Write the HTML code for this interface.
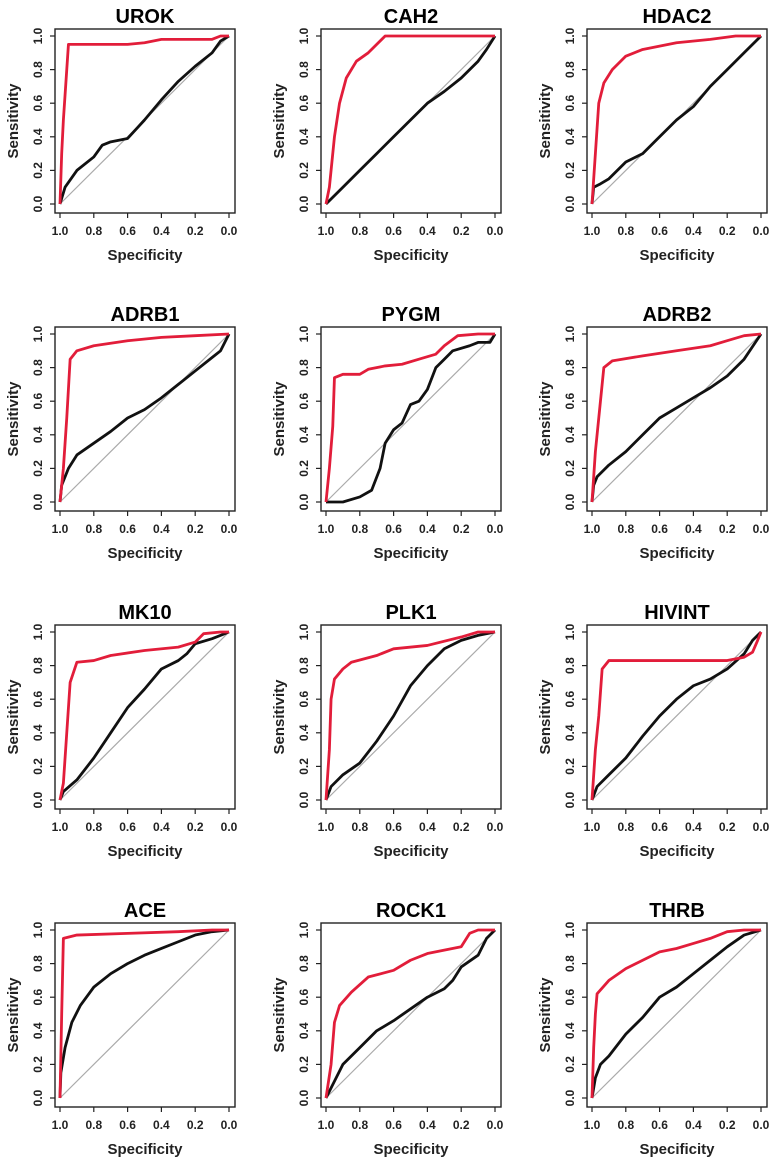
<!DOCTYPE html>
<html><head><meta charset="utf-8"><style>
html,body{margin:0;padding:0;background:#fff;}
svg{display:block;font-family:"Liberation Sans",Arial,sans-serif;}
</style></head><body>
<svg id="chart" width="774" height="1157" viewBox="0 0 774 1157"></svg>
<script>
const panelTitles = ["UROK","CAH2","HDAC2","ADRB1","PYGM","ADRB2","MK10","PLK1","HIVINT","ACE","ROCK1","THRB"];
const tickValues = [1.0,0.8,0.6,0.4,0.2,0.0];
const tickLabels = ["1.0","0.8","0.6","0.4","0.2","0.0"];
const yTickValues = [0.0,0.2,0.4,0.6,0.8,1.0];
const yTickLabels = ["0.0","0.2","0.4","0.6","0.8","1.0"];
const redCurves = [
 [[1,0],[0.99,0.3],[0.98,0.5],[0.96,0.8],[0.95,0.95],[0.6,0.95],[0.5,0.96],[0.4,0.98],[0.1,0.98],[0.05,1],[0,1]],
 [[1,0],[0.98,0.1],[0.95,0.4],[0.92,0.6],[0.88,0.75],[0.82,0.85],[0.75,0.9],[0.7,0.95],[0.65,1],[0,1]],
 [[1,0],[0.98,0.3],[0.96,0.6],[0.93,0.72],[0.88,0.8],[0.8,0.88],[0.7,0.92],[0.5,0.96],[0.3,0.98],[0.15,1],[0,1]],
 [[1,0],[0.98,0.2],[0.96,0.5],[0.94,0.85],[0.9,0.9],[0.8,0.93],[0.6,0.96],[0.4,0.98],[0.2,0.99],[0,1]],
 [[1,0],[0.98,0.2],[0.96,0.45],[0.95,0.74],[0.9,0.76],[0.8,0.76],[0.75,0.79],[0.65,0.81],[0.55,0.82],[0.45,0.85],[0.35,0.88],[0.3,0.93],[0.22,0.99],[0.1,1],[0,1]],
 [[1,0],[0.98,0.3],[0.95,0.6],[0.93,0.8],[0.88,0.84],[0.7,0.87],[0.5,0.9],[0.3,0.93],[0.2,0.96],[0.1,0.99],[0,1]],
 [[1,0],[0.98,0.1],[0.96,0.4],[0.94,0.7],[0.9,0.82],[0.8,0.83],[0.7,0.86],[0.5,0.89],[0.3,0.91],[0.2,0.94],[0.15,0.99],[0.05,1],[0,1]],
 [[1,0],[0.98,0.3],[0.97,0.6],[0.95,0.72],[0.9,0.78],[0.85,0.82],[0.7,0.86],[0.6,0.9],[0.4,0.92],[0.2,0.97],[0.1,1],[0,1]],
 [[1,0],[0.98,0.3],[0.96,0.5],[0.94,0.78],[0.9,0.83],[0.2,0.83],[0.1,0.85],[0.05,0.88],[0.02,0.95],[0,1]],
 [[1,0],[0.99,0.5],[0.98,0.95],[0.9,0.97],[0.6,0.98],[0.3,0.99],[0.1,1],[0,1]],
 [[1,0],[0.97,0.2],[0.95,0.45],[0.92,0.55],[0.85,0.63],[0.75,0.72],[0.6,0.76],[0.5,0.82],[0.4,0.86],[0.3,0.88],[0.2,0.9],[0.15,0.98],[0.1,1],[0,1]],
 [[1,0],[0.99,0.3],[0.98,0.5],[0.97,0.62],[0.9,0.7],[0.8,0.77],[0.7,0.82],[0.6,0.87],[0.5,0.89],[0.4,0.92],[0.3,0.95],[0.2,0.99],[0.1,1],[0,1]]
];
const blackCurves = [
 [[1,0],[0.97,0.1],[0.9,0.2],[0.8,0.28],[0.75,0.35],[0.7,0.37],[0.6,0.39],[0.5,0.5],[0.4,0.62],[0.3,0.73],[0.2,0.82],[0.1,0.9],[0.05,0.97],[0,1]],
 [[1,0],[0.9,0.1],[0.8,0.2],[0.7,0.3],[0.6,0.4],[0.5,0.5],[0.4,0.6],[0.3,0.67],[0.2,0.75],[0.1,0.85],[0.05,0.92],[0,1]],
 [[1,0],[0.99,0.1],[0.95,0.12],[0.9,0.15],[0.8,0.25],[0.7,0.3],[0.6,0.4],[0.5,0.5],[0.4,0.58],[0.3,0.7],[0.2,0.8],[0.1,0.9],[0,1]],
 [[1,0],[0.99,0.1],[0.95,0.2],[0.9,0.28],[0.8,0.35],[0.7,0.42],[0.6,0.5],[0.5,0.55],[0.4,0.62],[0.3,0.7],[0.2,0.78],[0.1,0.86],[0.05,0.9],[0,1]],
 [[1,0],[0.9,0],[0.8,0.03],[0.73,0.07],[0.68,0.2],[0.65,0.35],[0.6,0.43],[0.55,0.47],[0.5,0.58],[0.45,0.6],[0.4,0.67],[0.35,0.8],[0.3,0.85],[0.25,0.9],[0.15,0.93],[0.1,0.95],[0.03,0.95],[0,1]],
 [[1,0],[0.99,0.1],[0.97,0.15],[0.9,0.22],[0.8,0.3],[0.7,0.4],[0.6,0.5],[0.5,0.56],[0.4,0.62],[0.3,0.68],[0.2,0.75],[0.1,0.85],[0,1]],
 [[1,0],[0.98,0.05],[0.9,0.12],[0.8,0.25],[0.7,0.4],[0.6,0.55],[0.5,0.66],[0.4,0.78],[0.3,0.83],[0.25,0.87],[0.2,0.93],[0.1,0.96],[0,1]],
 [[1,0],[0.97,0.08],[0.9,0.15],[0.8,0.22],[0.7,0.35],[0.6,0.5],[0.5,0.68],[0.4,0.8],[0.3,0.9],[0.2,0.95],[0.1,0.98],[0,1]],
 [[1,0],[0.97,0.08],[0.9,0.15],[0.8,0.25],[0.7,0.38],[0.6,0.5],[0.5,0.6],[0.4,0.68],[0.3,0.72],[0.2,0.78],[0.1,0.87],[0.05,0.95],[0,1]],
 [[1,0],[0.995,0.15],[0.97,0.3],[0.93,0.45],[0.88,0.55],[0.8,0.66],[0.7,0.74],[0.6,0.8],[0.5,0.85],[0.4,0.89],[0.3,0.93],[0.2,0.97],[0.1,0.99],[0,1]],
 [[1,0],[0.95,0.1],[0.9,0.2],[0.8,0.3],[0.7,0.4],[0.6,0.46],[0.5,0.53],[0.4,0.6],[0.3,0.65],[0.25,0.7],[0.2,0.78],[0.1,0.85],[0.05,0.95],[0,1]],
 [[1,0],[0.98,0.12],[0.95,0.2],[0.9,0.25],[0.8,0.38],[0.7,0.48],[0.6,0.6],[0.5,0.66],[0.4,0.74],[0.3,0.82],[0.2,0.9],[0.1,0.97],[0,1]]
];

const NS = "http://www.w3.org/2000/svg";
const svg = document.getElementById("chart");
function mk(tag, attrs, parent){
  const e = document.createElementNS(NS, tag);
  for (const k in attrs) e.setAttribute(k, attrs[k]);
  parent.appendChild(e);
  return e;
}
panelTitles.forEach((title, i) => {
  const c = i % 3, r = Math.floor(i / 3);
  const L = 55 + 266 * c, T = 29 + 298 * r;
  const xS = v => L + 5 + (1 - v) * 169;
  const yS = v => T + 175 - v * 168;
  const g = mk("g", {}, svg);
  
  
  const t = mk("text", {x: L + 90, y: T - 6, "text-anchor": "middle", "font-size": 20, "font-weight": "bold", fill: "#000"}, g);
  t.textContent = title;
  
  
  const d = mk("line", {x1: xS(1), y1: yS(0), x2: xS(0), y2: yS(1), stroke: "#aaa", "stroke-width": 1.2}, g);
  
  
  const bl = mk("polyline", {points: blackCurves[i].map(p => xS(p[0]) + "," + yS(p[1])).join(" "), fill: "none", stroke: "#111", "stroke-width": 2.8, "stroke-linejoin": "round"}, g);
  
  
  const rd = mk("polyline", {points: redCurves[i].map(p => xS(p[0]) + "," + yS(p[1])).join(" "), fill: "none", stroke: "#e21d3a", "stroke-width": 2.8, "stroke-linejoin": "round"}, g);
  
  
  const b = mk("rect", {x: L, y: T, width: 180, height: 184, fill: "none", stroke: "#222", "stroke-width": 1.4}, g);
  
  
  tickValues.forEach((v, k) => {
    mk("line", {x1: xS(v), y1: T + 184, x2: xS(v), y2: T + 189, stroke: "#222", "stroke-width": 1.2}, g);
    const tx = mk("text", {x: xS(v), y: T + 206, "text-anchor": "middle", "font-size": 12, "font-weight": "bold", fill: "#222"}, g);
    tx.textContent = tickLabels[k];
    
    
  });
  yTickValues.forEach((v, k) => {
    mk("line", {x1: L, y1: yS(v), x2: L - 5, y2: yS(v), stroke: "#222", "stroke-width": 1.2}, g);
    const ty = mk("text", {x: 0, y: 0, transform: "translate(" + (L - 13) + "," + yS(v) + ") rotate(-90)", "text-anchor": "middle", "font-size": 12, "font-weight": "bold", fill: "#222"}, g);
    ty.textContent = yTickLabels[k];
    
    
  });
  const xl = mk("text", {x: L + 90, y: T + 231, "text-anchor": "middle", "font-size": 15, "font-weight": "bold", fill: "#222"}, g);
  xl.textContent = "Specificity";
  
  
  const yl = mk("text", {x: 0, y: 0, transform: "translate(" + (L - 37) + "," + (T + 92) + ") rotate(-90)", "text-anchor": "middle", "font-size": 15, "font-weight": "bold", fill: "#222"}, g);
  yl.textContent = "Sensitivity";
  
  
});
</script>
</body></html>
